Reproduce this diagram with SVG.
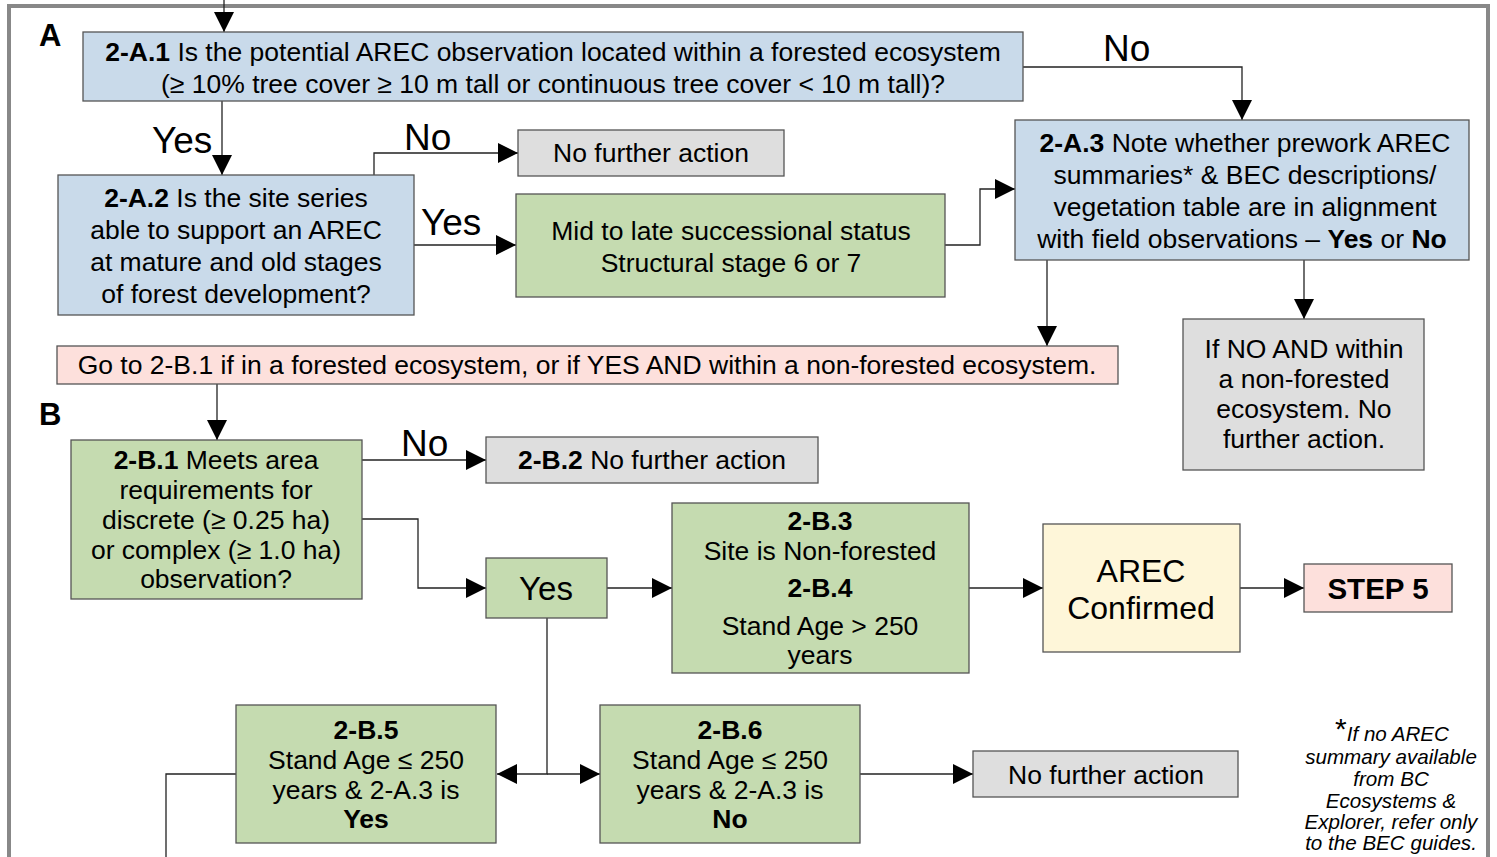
<svg xmlns="http://www.w3.org/2000/svg" width="1497" height="857" viewBox="0 0 1497 857">
<defs>
<marker id="ah" viewBox="0 0 10 10" refX="10" refY="5" markerWidth="20" markerHeight="22" markerUnits="userSpaceOnUse" orient="auto">
<path d="M0,0 L10,5 L0,10 z" fill="#000"/>
</marker>
<style>
text{font-family:"Liberation Sans",Arial,sans-serif;fill:#000;}
.t{font-size:26.5px;text-anchor:middle;}
.b{font-weight:bold;}
.lbl{font-size:37px;}
.box{stroke:#555;stroke-width:1.3;}
.blue{fill:#c9daea;}
.green{fill:#c5dbb0;}
.gray{fill:#dedede;}
.pink{fill:#fde0dc;}
.yellow{fill:#fef6d9;}
.c{fill:none;stroke:#222;stroke-width:1.3;}
.fn{font-size:20.6px;font-style:italic;text-anchor:middle;}
</style>
</defs>
<rect width="1497" height="857" fill="#fff"/>
<path d="M9,857 V6 H1488 V857" fill="none" stroke="#888" stroke-width="4"/>
<text x="39" y="46" font-size="31" class="b">A</text>
<text x="39" y="425" font-size="31" class="b">B</text>

<g id="connectors">
<path class="c" d="M224,0 V32" marker-end="url(#ah)"/>
<path class="c" d="M1023,67 H1242 V120" marker-end="url(#ah)"/>
<path class="c" d="M222,101 V175" marker-end="url(#ah)"/>
<path class="c" d="M374,175 V153 H518" marker-end="url(#ah)"/>
<path class="c" d="M414,245 H516" marker-end="url(#ah)"/>
<path class="c" d="M945,245 H980 V189 H1015" marker-end="url(#ah)"/>
<path class="c" d="M1047,260 V346" marker-end="url(#ah)"/>
<path class="c" d="M1304,260 V319" marker-end="url(#ah)"/>
<path class="c" d="M217,384 V440" marker-end="url(#ah)"/>
<path class="c" d="M362,460 H486" marker-end="url(#ah)"/>
<path class="c" d="M362,519 H418 V588 H486" marker-end="url(#ah)"/>
<path class="c" d="M607,588 H672" marker-end="url(#ah)"/>
<path class="c" d="M969,588 H1043" marker-end="url(#ah)"/>
<path class="c" d="M1240,588 H1304" marker-end="url(#ah)"/>
<path class="c" d="M547,618 V774 H497" marker-end="url(#ah)"/>
<path class="c" d="M547,774 H600" marker-end="url(#ah)"/>
<path class="c" d="M860,774 H973" marker-end="url(#ah)"/>
<path class="c" d="M236,774 H166 V857"/>
<text x="1103" y="61" class="lbl">No</text>
<text x="152" y="153" class="lbl">Yes</text>
<text x="404" y="150" class="lbl">No</text>
<text x="421" y="235" class="lbl">Yes</text>
<text x="401" y="456" class="lbl">No</text>
</g>

<g id="n2A1">
<rect class="box blue" x="83" y="32" width="940" height="69"/>
<text class="t" x="553" y="61"><tspan class="b">2-A.1</tspan> Is the potential AREC observation located within a forested ecosystem</text>
<text class="t" x="553" y="93">(≥ 10% tree cover ≥ 10 m tall or continuous tree cover &lt; 10 m tall)?</text>
</g>

<g id="n2A2">
<rect class="box blue" x="58" y="175" width="356" height="140"/>
<text class="t" x="236" y="207"><tspan class="b">2-A.2</tspan> Is the site series</text>
<text class="t" x="236" y="239">able to support an AREC</text>
<text class="t" x="236" y="271">at mature and old stages</text>
<text class="t" x="236" y="303">of forest development?</text>
</g>

<g id="nNFA1">
<rect class="box gray" x="518" y="130" width="266" height="46"/>
<text class="t" x="651" y="162">No further action</text>
</g>

<g id="nMid">
<rect class="box green" x="516" y="194" width="429" height="103"/>
<text class="t" x="731" y="240">Mid to late successional status</text>
<text class="t" x="731" y="272">Structural stage 6 or 7</text>
</g>

<g id="n2A3">
<rect class="box blue" x="1015" y="120" width="454" height="140"/>
<text class="t" x="1245" y="152"><tspan class="b">2-A.3</tspan> Note whether prework AREC</text>
<text class="t" x="1245" y="184">summaries* &amp; BEC descriptions/</text>
<text class="t" x="1245" y="216">vegetation table are in alignment</text>
<text class="t" x="1242" y="248">with field observations – <tspan class="b">Yes</tspan> or <tspan class="b">No</tspan></text>
</g>

<g id="nIfNo">
<rect class="box gray" x="1183" y="319" width="241" height="151"/>
<text class="t" x="1304" y="358">If NO AND within</text>
<text class="t" x="1304" y="388">a non-forested</text>
<text class="t" x="1304" y="418">ecosystem. No</text>
<text class="t" x="1304" y="448">further action.</text>
</g>

<g id="nGoTo">
<rect class="box pink" x="57" y="346" width="1061" height="38"/>
<text class="t" x="587" y="374">Go to 2-B.1 if in a forested ecosystem, or if YES AND within a non-forested ecosystem.</text>
</g>

<g id="n2B1">
<rect class="box green" x="71" y="440" width="291" height="159"/>
<text class="t" x="216" y="469"><tspan class="b">2-B.1</tspan> Meets area</text>
<text class="t" x="216" y="499">requirements for</text>
<text class="t" x="216" y="529">discrete (≥ 0.25 ha)</text>
<text class="t" x="216" y="559">or complex (≥ 1.0 ha)</text>
<text class="t" x="216" y="588">observation?</text>
</g>

<g id="n2B2">
<rect class="box gray" x="486" y="437" width="332" height="46"/>
<text class="t" x="652" y="469"><tspan class="b">2-B.2</tspan> No further action</text>
</g>

<g id="nYes">
<rect class="box green" x="486" y="558" width="121" height="60"/>
<text class="t" x="546" y="600" style="font-size:33px">Yes</text>
</g>

<g id="n2B3">
<rect class="box green" x="672" y="503" width="297" height="170"/>
<text class="t b" x="820" y="530">2-B.3</text>
<text class="t" x="820" y="560">Site is Non-forested</text>
<text class="t b" x="820" y="597">2-B.4</text>
<text class="t" x="820" y="635">Stand Age &gt; 250</text>
<text class="t" x="820" y="664">years</text>
</g>

<g id="nAREC">
<rect class="box yellow" x="1043" y="524" width="197" height="128"/>
<text class="t" x="1141" y="582" style="font-size:32px">AREC</text>
<text class="t" x="1141" y="619" style="font-size:32px">Confirmed</text>
</g>

<g id="nStep5">
<rect class="box pink" x="1304" y="564" width="148" height="48"/>
<text class="t b" x="1378" y="599" style="font-size:29.5px">STEP 5</text>
</g>

<g id="n2B5">
<rect class="box green" x="236" y="705" width="260" height="138"/>
<text class="t b" x="366" y="739">2-B.5</text>
<text class="t" x="366" y="769">Stand Age ≤ 250</text>
<text class="t" x="366" y="799">years &amp; 2-A.3 is</text>
<text class="t b" x="366" y="828">Yes</text>
</g>

<g id="n2B6">
<rect class="box green" x="600" y="705" width="260" height="138"/>
<text class="t b" x="730" y="739">2-B.6</text>
<text class="t" x="730" y="769">Stand Age ≤ 250</text>
<text class="t" x="730" y="799">years &amp; 2-A.3 is</text>
<text class="t b" x="730" y="828">No</text>
</g>

<g id="nNFA2">
<rect class="box gray" x="973" y="751" width="265" height="46"/>
<text class="t" x="1106" y="784">No further action</text>
</g>

<g id="footnote">
<text class="fn" x="1392" y="741"><tspan style="font-size:30px;font-style:normal" dy="-2">*</tspan><tspan dy="2">If no AREC</tspan></text>
<text class="fn" x="1391" y="764">summary available</text>
<text class="fn" x="1391" y="786">from BC</text>
<text class="fn" x="1391" y="808">Ecosystems &amp;</text>
<text class="fn" x="1391" y="829">Explorer, refer only</text>
<text class="fn" x="1391" y="850">to the BEC guides.</text>
</g>
</svg>
